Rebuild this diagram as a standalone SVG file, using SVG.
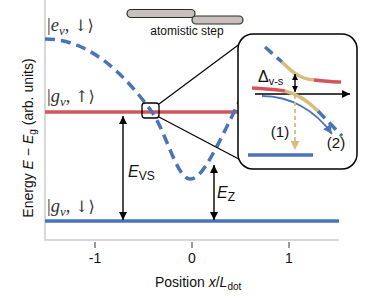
<svg xmlns="http://www.w3.org/2000/svg" width="373" height="302" viewBox="0 0 373 302">
<defs>
<style>
.sans{font-family:"Liberation Sans",Arial,sans-serif;fill:#111}
.math{font-family:"Liberation Serif","DejaVu Serif",serif;fill:#333;font-size:18.5px}
.sym{font-family:"DejaVu Serif","DejaVu Sans",serif;font-size:16px}
.it{font-style:italic}
.spine{stroke:#cccccc;stroke-width:1.5;fill:none}
.tick{stroke:#555;stroke-width:1.2}
.red{stroke:#d3545a;stroke-width:3.5;fill:none}
.blue{stroke:#4a74b8;stroke-width:3.5;fill:none}
.bdash{stroke:#4a74b8;stroke-width:3.5;fill:none;stroke-dasharray:10 6}
.gold{stroke:#d6bd7c;stroke-width:3.5;fill:none}
.blk{stroke:#000;stroke-width:1.4;fill:none}
</style>
<marker id="ah" viewBox="0 0 10 10" refX="10" refY="5" markerWidth="8" markerHeight="8" markerUnits="userSpaceOnUse" orient="auto-start-reverse"><path d="M0,0 L10,5 L0,10 z" fill="#000"/></marker>
<marker id="ahs" viewBox="0 0 10 10" refX="10" refY="5" markerWidth="6" markerHeight="6" markerUnits="userSpaceOnUse" orient="auto-start-reverse"><path d="M0,0 L10,5 L0,10 z" fill="#000"/></marker>
<marker id="ahb" viewBox="0 0 10 10" refX="10" refY="5" markerWidth="9" markerHeight="9" markerUnits="userSpaceOnUse" orient="auto"><path d="M0,0 L10,5 L0,10 z" fill="#4a74b8"/></marker>
<marker id="ahg" viewBox="0 0 10 10" refX="10" refY="5" markerWidth="9" markerHeight="9" markerUnits="userSpaceOnUse" orient="auto"><path d="M0,0 L10,5 L0,10 z" fill="#d6bd7c"/></marker>
</defs>

<g id="axes">
<path class="spine" d="M45,0 V240 H339"/>
<line class="tick" x1="95" y1="242" x2="95" y2="248"/>
<line class="tick" x1="192" y1="242" x2="192" y2="248"/>
<line class="tick" x1="289" y1="242" x2="289" y2="248"/>
<text class="sans" x="95" y="263" font-size="14" text-anchor="middle">-1</text>
<text class="sans" x="192" y="263" font-size="14" text-anchor="middle">0</text>
<text class="sans" x="289" y="263" font-size="14" text-anchor="middle">1</text>
<text class="sans" x="155" y="287" font-size="14">Position <tspan class="it">x</tspan>/<tspan class="it">L</tspan><tspan font-size="10" dy="3">dot</tspan></text>
<text class="sans" x="33" y="138" font-size="14" text-anchor="middle" transform="rotate(-90 33 138)">Energy <tspan class="it">E</tspan> − <tspan class="it">E</tspan><tspan font-size="10" dy="3">g</tspan><tspan dy="-3">  (arb. units)</tspan></text>
</g>

<g id="level-gv-up">
<line class="red" x1="45" y1="112" x2="238" y2="112"/>
<text class="math" x="47" y="102">|<tspan class="it">g</tspan><tspan class="it" font-size="13" dy="4">v</tspan><tspan dy="-4">, </tspan><tspan class="sym">↑⟩</tspan></text>
</g>
<g id="level-gv-down">
<line class="blue" x1="45" y1="221" x2="339" y2="221"/>
<text class="math" x="47" y="212">|<tspan class="it">g</tspan><tspan class="it" font-size="13" dy="4">v</tspan><tspan dy="-4">, </tspan><tspan class="sym">↓⟩</tspan></text>
</g>
<g id="level-ev-down">
<path class="bdash" d="M45,39 C90,39 125,75 152,112 C166,132 177,179 190,179 C203,179 215,150 245,90"/>
<text class="math" x="47" y="31">|<tspan class="it">e</tspan><tspan class="it" font-size="13" dy="4">v</tspan><tspan dy="-4">, </tspan><tspan class="sym">↓⟩</tspan></text>
</g>

<g id="atomistic-step">
<rect x="127" y="9.5" width="68" height="8" rx="4" fill="#c9bfc1" stroke="#223322" stroke-width="1.2"/>
<rect x="192" y="16" width="51" height="8" rx="4" fill="#c9bfc1" stroke="#223322" stroke-width="1.2"/>
<text class="sans" x="187" y="35" font-size="12" text-anchor="middle">atomistic step</text>
</g>

<g id="connectors">
<line class="blk" x1="123" y1="116" x2="123" y2="220" marker-start="url(#ah)" marker-end="url(#ah)"/>
<line class="blk" x1="214" y1="165" x2="214" y2="220" marker-start="url(#ah)" marker-end="url(#ah)"/>
<line stroke="#000" stroke-width="1.2" x1="159" y1="104" x2="245" y2="40"/>
<line stroke="#000" stroke-width="1.2" x1="159" y1="117" x2="252" y2="166"/>
</g>
<g id="label-evs"><text class="sans it" x="128" y="177" font-size="16">E<tspan font-style="normal" font-size="12" dy="3">VS</tspan></text></g>
<g id="label-ez"><text class="sans it" x="217" y="198" font-size="16">E<tspan font-style="normal" font-size="12" dy="3">Z</tspan></text></g>

<g id="zoom-square"><rect x="142" y="103" width="17" height="15" rx="3" fill="none" stroke="#000" stroke-width="1.3"/></g>

<g id="inset">
<rect x="238" y="34" width="119" height="135" rx="15" fill="#fff" stroke="#000" stroke-width="1.5"/>
<line class="blk" stroke-width="1.8" x1="255" y1="94" x2="350" y2="94" marker-end="url(#ah)"/>
<path class="bdash" stroke-dasharray="8 4" d="M265,47 L282,62"/>
<path class="gold" d="M282,62 C292,72 300,79 314,80"/>
<path class="red" d="M314,80 C325,81 333,82 341,82"/>
<path class="red" d="M252,88 C265,89 275,89 285,91"/>
<path class="gold" d="M285,91 C297,94 308,101 318,111"/>
<path class="bdash" stroke-dasharray="8 4" d="M318,111 L342,136"/>
<path stroke="#4a74b8" stroke-width="1.8" fill="none" d="M262,96 C290,96 315,110 332,134" marker-end="url(#ahb)"/>
<line class="blk" x1="295" y1="74" x2="295" y2="92" marker-start="url(#ahs)" marker-end="url(#ahs)"/>
<line stroke="#d6bd7c" stroke-width="1.8" stroke-dasharray="4 3" x1="295" y1="95" x2="295" y2="150" marker-end="url(#ahg)"/>
<line class="blue" x1="248" y1="155" x2="313" y2="155"/>
<text class="sans" x="258" y="82" font-size="16">Δ<tspan font-size="11" dy="3">v-s</tspan></text>
<text class="sans" x="280" y="137" font-size="15" text-anchor="middle">(1)</text>
<text class="sans" x="336" y="148" font-size="15" text-anchor="middle">(2)</text>
</g>
</svg>
